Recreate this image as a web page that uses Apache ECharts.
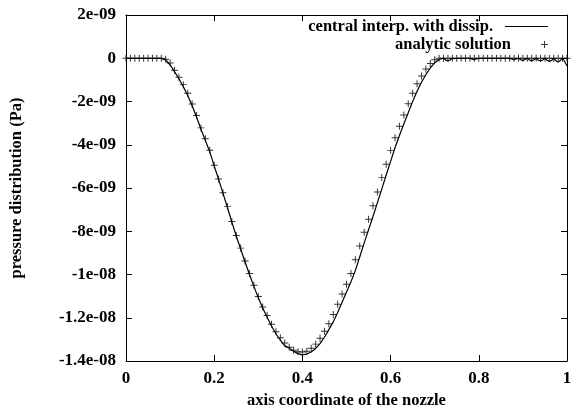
<!DOCTYPE html>
<html>
<head>
<meta charset="utf-8">
<script src="https://cdn.jsdelivr.net/npm/echarts@6/dist/echarts.min.js"></script>
<style>html,body{margin:0;padding:0;background:#fff}#c{width:571px;height:412px}</style>
</head>
<body>
<div id="c"></div>
<script>
// values in units of 1e-9 Pa
var xAnalytic = [0,0.01,0.02,0.03,0.04,0.05,0.06,0.07,0.08,0.09,0.10,0.11,0.12,0.13,0.14,0.15,0.16,0.17,0.18,0.19,0.20,0.21,0.22,0.23,0.24,0.25,0.26,0.27,0.28,0.29,0.30,0.31,0.32,0.33,0.34,0.35,0.36,0.37,0.38,0.39,0.40,0.41,0.42,0.43,0.44,0.45,0.46,0.47,0.48,0.49,0.50,0.51,0.52,0.53,0.54,0.55,0.56,0.57,0.58,0.59,0.60,0.61,0.62,0.63,0.64,0.65,0.66,0.67,0.68,0.69,0.70,0.71,0.72,0.73,0.74,0.75,0.76,0.77,0.78,0.79,0.80,0.81,0.82,0.83,0.84,0.85,0.86,0.87,0.88,0.89,0.90,0.91,0.92,0.93,0.94,0.95,0.96,0.97,0.98,0.99,1.00];
var yAnalytic = [0,0,0,0,0,0,0,0,0,-0.05,-0.22,-0.55,-0.88,-1.22,-1.62,-2.12,-2.65,-3.22,-3.72,-4.25,-4.95,-5.58,-6.22,-6.85,-7.55,-8.20,-8.78,-9.38,-9.95,-10.50,-11.02,-11.50,-11.90,-12.30,-12.65,-12.93,-13.17,-13.36,-13.50,-13.57,-13.58,-13.55,-13.41,-13.22,-12.95,-12.62,-12.28,-11.85,-11.38,-10.90,-10.45,-9.95,-9.32,-8.68,-8.05,-7.45,-6.82,-6.18,-5.52,-4.90,-4.26,-3.68,-3.14,-2.62,-2.10,-1.62,-1.18,-0.82,-0.50,-0.24,-0.07,0,0,0,0,0,0,0,0,0,0,0,0,0,0,0,0,0,0,0,0,0,0,0,0,0,0,0,0,0,0];
var xNumeric = [0,0.01,0.02,0.03,0.04,0.05,0.06,0.07,0.08,0.09,0.10,0.11,0.12,0.13,0.14,0.15,0.16,0.17,0.18,0.19,0.20,0.21,0.22,0.23,0.24,0.25,0.26,0.27,0.28,0.29,0.30,0.31,0.32,0.33,0.34,0.35,0.36,0.37,0.38,0.39,0.40,0.41,0.42,0.43,0.44,0.45,0.46,0.47,0.48,0.49,0.50,0.51,0.52,0.53,0.54,0.55,0.56,0.57,0.58,0.59,0.60,0.61,0.62,0.63,0.64,0.65,0.66,0.67,0.68,0.69,0.70,0.71,0.72,0.725,0.73,0.735,0.74,0.745,0.75,0.76,0.77,0.78,0.785,0.79,0.795,0.80,0.81,0.82,0.83,0.84,0.85,0.86,0.87,0.875,0.88,0.885,0.89,0.895,0.90,0.905,0.91,0.915,0.92,0.925,0.93,0.935,0.94,0.945,0.95,0.955,0.96,0.965,0.97,0.975,0.98,0.985,0.99,0.995,1.00];
var yNumeric = [0,0,0,0,0,0,0,0,0,-0.08,-0.30,-0.62,-0.95,-1.32,-1.72,-2.20,-2.72,-3.28,-3.80,-4.33,-4.98,-5.60,-6.25,-6.90,-7.58,-8.22,-8.82,-9.42,-10.00,-10.55,-11.08,-11.55,-11.98,-12.38,-12.74,-13.04,-13.30,-13.40,-13.55,-13.66,-13.72,-13.68,-13.58,-13.42,-13.20,-12.90,-12.55,-12.19,-11.76,-11.28,-10.81,-10.35,-9.82,-9.19,-8.55,-7.93,-7.32,-6.69,-6.05,-5.40,-4.77,-4.14,-3.57,-3.04,-2.52,-2.00,-1.53,-1.11,-0.76,-0.45,-0.21,-0.06,0,-0.08,-0.12,-0.08,0,-0.02,0,0,0,0,-0.04,-0.06,-0.03,0,0,0,0,0,0,0,0,-0.04,-0.06,-0.03,0,-0.07,-0.1,-0.06,0,-0.08,-0.12,-0.07,0,-0.09,-0.13,-0.08,0,-0.1,-0.15,-0.1,0,-0.12,-0.18,-0.1,0,-0.16,-0.36,0];
var xTickLabels = ['0','0.2','0.4','0.6','0.8','1'];
var yTickLabels = ['-1.4e-08','-1.2e-08','-1e-08','-8e-09','-6e-09','-4e-09','-2e-09','0','2e-09'];

function pairs(xs, ys){ return xs.map(function(x,i){ return [x, ys[i]]; }); }

var FONT = '"Liberation Serif", "Times New Roman", serif';
var TXT = 16.5, TICK = 17;
var chart = echarts.init(document.getElementById('c'), null, {renderer:'canvas'});
var plusPath = 'path://M4.3,0H5.7V4.3H10V5.7H5.7V10H4.3V5.7H0V4.3H4.3Z';
var linePath = 'path://M0,0H43V1H0Z';
chart.setOption({
  animation: false,
  backgroundColor: '#fff',
  grid: {left: 126, right: 4, top: 15, bottom: 51, show: false, containLabel: false, outerBoundsMode: 'none'},
  legend: [
    {data:[{name:'central interp. with dissip.', icon: linePath}], right: 18, top: 13, align:'right',
     itemWidth: 43, itemHeight: 14,
     textStyle:{fontFamily:FONT, fontWeight:'bold', fontSize:TXT, color:'#000', padding:[0,7,0,0]}},
    {data:[{name:'analytic solution', icon: plusPath}], right: 18, top: 31, align:'right',
     itemWidth: 43, itemHeight: 7,
     textStyle:{fontFamily:FONT, fontWeight:'bold', fontSize:TXT, color:'#000', padding:[0,7,0,0]}}
  ],
  xAxis: [
    {type:'value', position:'bottom', min:0, max:1, interval:0.2,
     name:'axis coordinate of the nozzle', nameLocation:'middle', nameGap:31,
     nameTextStyle:{fontFamily:FONT, fontWeight:'bold', fontSize:TXT, color:'#000'},
     axisLine:{onZero:false, lineStyle:{color:'#000', width:1}},
     axisTick:{inside:true, length:6, lineStyle:{color:'#000'}},
     axisLabel:{margin:9, fontFamily:FONT, fontWeight:'bold', fontSize:TICK, color:'#000',
       formatter:function(v){ return xTickLabels[Math.round(v/0.2)]; }},
     splitLine:{show:false}},
    {type:'value', position:'top', min:0, max:1, interval:0.2,
     axisLine:{onZero:false, lineStyle:{color:'#000', width:1}},
     axisTick:{inside:true, length:6, lineStyle:{color:'#000'}},
     axisLabel:{show:false}, splitLine:{show:false}}
  ],
  yAxis: [
    {type:'value', position:'left', min:-14, max:2, interval:2,
     name:'pressure distribution (Pa)', nameLocation:'middle', nameGap:101,
     nameTextStyle:{fontFamily:FONT, fontWeight:'bold', fontSize:TXT, color:'#000'},
     axisLine:{show:true, onZero:false, lineStyle:{color:'#000', width:1}},
     axisTick:{show:true, inside:true, length:6, lineStyle:{color:'#000'}},
     axisLabel:{margin:10, fontFamily:FONT, fontWeight:'bold', fontSize:TICK, color:'#000',
       formatter:function(v){ return yTickLabels[Math.round((v+14)/2)]; }},
     splitLine:{show:false}},
    {type:'value', position:'right', min:-14, max:2, interval:2,
     axisLine:{show:true, onZero:false, lineStyle:{color:'#000', width:1}},
     axisTick:{show:true, inside:true, length:6, lineStyle:{color:'#000'}},
     axisLabel:{show:false}, splitLine:{show:false}}
  ],
  series: [
    {name:'central interp. with dissip.', type:'line', xAxisIndex:0, yAxisIndex:0,
     data: pairs(xNumeric, yNumeric), showSymbol:false, symbol:'none',
     lineStyle:{color:'#000', width:1.2}, itemStyle:{color:'#000'}},
    {name:'analytic solution', type:'scatter', xAxisIndex:0, yAxisIndex:0,
     data: pairs(xAnalytic, yAnalytic), symbol: plusPath, symbolSize: 7,
     itemStyle:{color:'#000'}}
  ]
});
</script>
</body>
</html>
